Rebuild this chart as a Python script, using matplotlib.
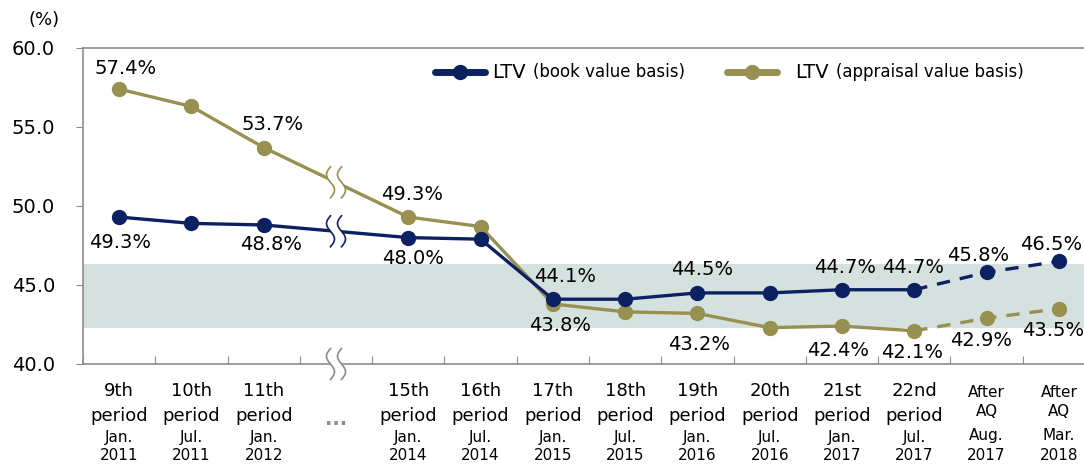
import numpy as np
import matplotlib.pyplot as plt
import matplotlib.transforms as mtransforms

# --- Data ---
# slot 3 is the "..." gap between the 11th and 15th period
slots = [0, 1, 2, 4, 5, 6, 7, 8, 9, 10, 11]
aq_slots = [12, 13]
periods = ["9th", "10th", "11th", "15th", "16th", "17th", "18th", "19th", "20th", "21st", "22nd"]
months = ["Jan.", "Jul.", "Jan.", "Jan.", "Jul.", "Jan.", "Jul.", "Jan.", "Jul.", "Jan.", "Jul."]
years = ["2011", "2011", "2012", "2014", "2014", "2015", "2015", "2016", "2016", "2017", "2017"]
aq_months = ["Aug.", "Mar."]
aq_years = ["2017", "2018"]

book = [49.3, 48.9, 48.8, 48.0, 47.9, 44.1, 44.1, 44.5, 44.5, 44.7, 44.7]
book_aq = [45.8, 46.5]
appraisal = [57.4, 56.3, 53.7, 49.3, 48.7, 43.8, 43.3, 43.2, 42.3, 42.4, 42.1]
appraisal_aq = [42.9, 43.5]
band_low, band_high = 42.3, 46.3

BLUE = "#0c2161"
OLIVE = "#979050"
BAND = "#d5e1df"
GRAY = "#8c8c8c"

# label offsets (pixels) per slot; slots missing here get no label
book_off = {0: (1, -25), 2: (7, -20), 4: (5, -21), 6: (12, 23), 8: (5, 23),
            10: (3, 22), 11: (-1, 22), 12: (-8, 17), 13: (-8, 17)}
appr_off = {0: (6, 21), 2: (9, 23), 4: (4, 23), 6: (7, -22), 8: (2, -31),
            10: (-4, -24), 11: (-2, -22), 12: (-6, -22), 13: (-6, -22)}

fig = plt.figure(figsize=(10.84, 4.65), dpi=100)
# axes runs a bit past the right edge of the picture, as in the reference
ax = fig.add_axes([83 / 1084, 1 - 364 / 465, 1012 / 1084, 316 / 465])
ax.set_xlim(-0.5, 13.5)
ax.set_ylim(40, 60)

ax.axhspan(band_low, band_high, color=BAND, lw=0, zorder=0)

# solid lines, then dashed continuation to the AQ points
ax.plot(slots, book, color=BLUE, lw=2.4, marker="o", ms=10, zorder=3)
ax.plot(slots, appraisal, color=OLIVE, lw=2.4, marker="o", ms=10, zorder=2)
ax.plot([slots[-1]] + aq_slots, [book[-1]] + book_aq, color=BLUE, lw=2.4,
        ls=(0, (4, 3)), zorder=3)
ax.plot(aq_slots, book_aq, color=BLUE, lw=0, marker="o", ms=10, zorder=3)
ax.plot([slots[-1]] + aq_slots, [appraisal[-1]] + appraisal_aq, color=OLIVE, lw=2.4,
        ls=(0, (4, 3)), zorder=2)
ax.plot(aq_slots, appraisal_aq, color=OLIVE, lw=0, marker="o", ms=10, zorder=2)


def draw_break(x, y, color, coords="data"):
    if coords == "data":
        base = mtransforms.ScaledTranslation(x, y, ax.transData)
    else:
        base = mtransforms.ScaledTranslation(x, y, ax.get_xaxis_transform())
    trans = fig.dpi_scale_trans + base
    t = np.linspace(0, 1, 40)
    yy = (t - 0.5) * 0.31
    xx = 0.04 * np.sin(2 * np.pi * t)
    gap = 0.055
    ax.fill_betweenx(yy, xx - gap, xx + gap, color="white", lw=0,
                     transform=trans, zorder=5, clip_on=False)
    for s in (-gap, gap):
        ax.plot(xx + s, yy, color=color, lw=1.2, transform=trans, zorder=6,
                clip_on=False)


yb = (book[2] + book[3]) / 2
ya = (appraisal[2] + appraisal[3]) / 2
draw_break(3, ya, OLIVE)
draw_break(3, yb, BLUE)
draw_break(3, 0, GRAY, coords="axis")

# value labels
all_slots = slots + aq_slots
for s, v in zip(all_slots, book + book_aq):
    if s in book_off:
        ax.annotate(f"{v:.1f}%", (s, v), xytext=book_off[s], textcoords="offset pixels",
                    ha="center", va="center", fontsize=14, zorder=7)
for s, v in zip(all_slots, appraisal + appraisal_aq):
    if s in appr_off:
        ax.annotate(f"{v:.1f}%", (s, v), xytext=appr_off[s], textcoords="offset pixels",
                    ha="center", va="center", fontsize=14, zorder=7)

# axes styling
for side in ["left", "bottom", "top", "right"]:
    ax.spines[side].set_color(GRAY)
    ax.spines[side].set_linewidth(1.2)
ax.set_yticks([40, 45, 50, 55, 60])
ax.set_yticklabels([f"{v:.1f}" for v in [40, 45, 50, 55, 60]], fontsize=14)
ax.tick_params(axis="y", length=5, color=GRAY, pad=15)
ax.set_xticks(np.arange(-0.5, 13.6, 1))
ax.set_xticklabels([])
ax.tick_params(axis="x", direction="in", length=6, color=GRAY)
ax.annotate("(%)", (0, 1), xycoords="axes fraction", xytext=(-39, 28),
            textcoords="offset pixels", ha="center", va="center", fontsize=13)

# category labels
xt = ax.get_xaxis_transform()
for s, p, m, y in zip(slots, periods, months, years):
    for txt, py, fs in [(p, 391, 13), ("period", 416, 13), (m, 437, 11), (y, 455, 11)]:
        ax.annotate(txt, (s, 0), xycoords=xt, xytext=(0, 364 - py), textcoords="offset pixels",
                    ha="center", va="center", fontsize=fs, annotation_clip=False)
for s, m, y in zip(aq_slots, aq_months, aq_years):
    for txt, py in [("After", 392), ("AQ", 411), (m, 435), (y, 455)]:
        ax.annotate(txt, (s, 0), xycoords=xt, xytext=(0, 364 - py), textcoords="offset pixels",
                    ha="center", va="center", fontsize=11, annotation_clip=False)
ax.annotate("...", (3, 0), xycoords=xt, xytext=(0, -55), textcoords="offset pixels",
            ha="center", va="center", fontsize=14, color=GRAY, fontweight="bold")

# legend drawn by hand
fx = lambda px: (px - 83) / 1012
fy = (364 - 72) / 316
for x0, tx, color, lab in [(435, 492, BLUE, "(book value basis)"),
                           (727, 795, OLIVE, "(appraisal value basis)")]:
    ax.plot([fx(x0), fx(x0 + 50)], [fy, fy], color=color, lw=5, solid_capstyle="round",
            transform=ax.transAxes, clip_on=False)
    ax.plot([fx(x0 + 25)], [fy], color=color, marker="o", ms=10,
            transform=ax.transAxes, clip_on=False)
    t1 = ax.text(fx(tx), fy, "LTV", fontsize=14,
                 transform=ax.transAxes, va="center", ha="left")
    ax.annotate(lab, (1, 0.5), xycoords=t1, xytext=(7, 0), textcoords="offset pixels",
                va="center", ha="left", fontsize=12)

fig.savefig("out.png", dpi=100)
